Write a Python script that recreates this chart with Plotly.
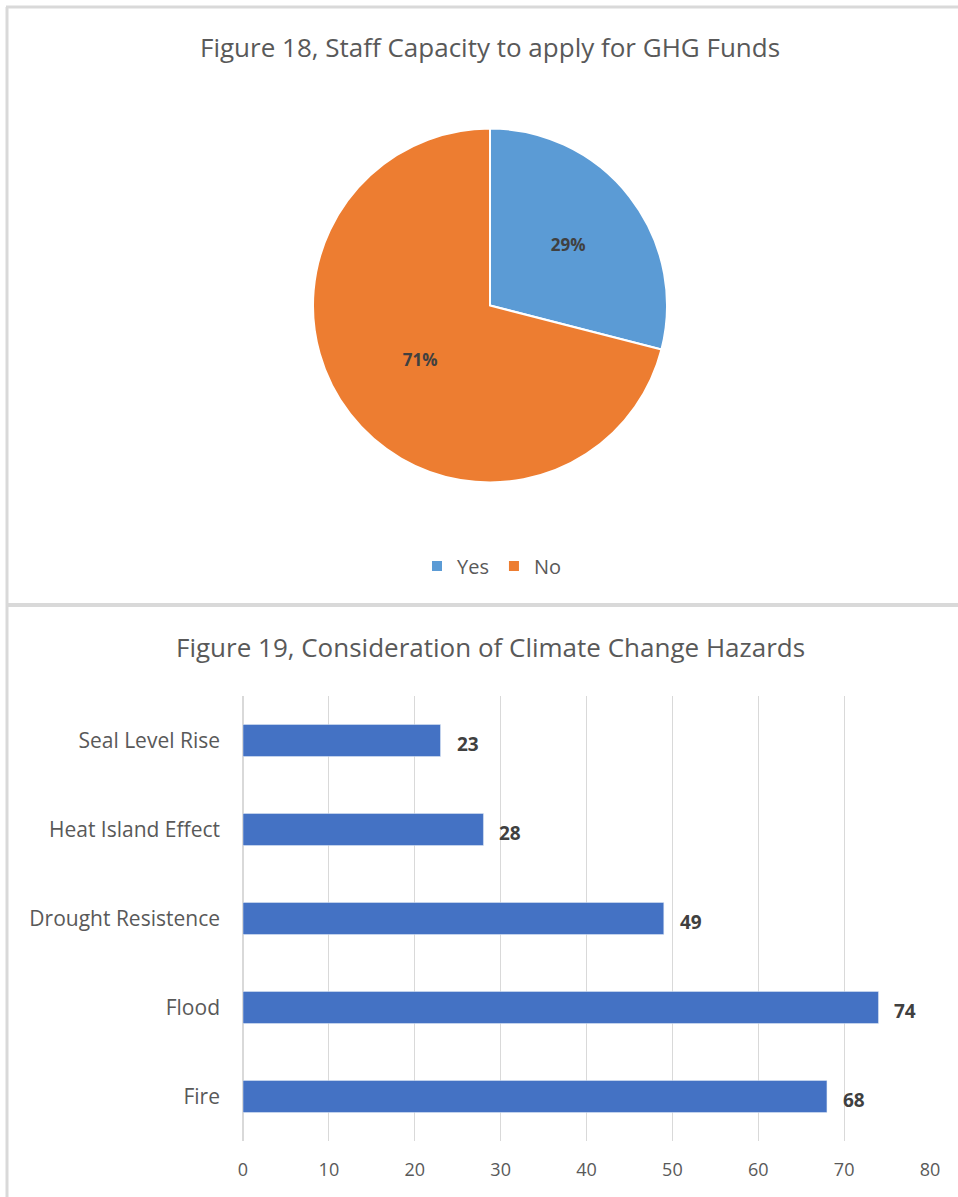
import plotly.graph_objects as go

W, H = 958, 1197

# Pie data
pie_labels = ["Yes", "No"]
pie_values = [29, 71]
pie_colors = ["#5B9BD5", "#ED7D31"]

# Bar data (top to bottom as shown)
hazards = ["Seal Level Rise", "Heat Island Effect", "Drought Resistence", "Flood", "Fire"]
counts = [23, 28, 49, 74, 68]
x_ticks = [0, 10, 20, 30, 40, 50, 60, 70, 80]

FONT = "Open Sans"
GREY = "#595959"
DARK = "#404040"

def px(x):
    return x / W

def py(y):
    return 1 - y / H

fig = go.Figure()

fig.add_trace(go.Pie(
    labels=pie_labels, values=pie_values, sort=False, direction="clockwise",
    rotation=0, automargin=False,
    marker=dict(colors=pie_colors, line=dict(color="white", width=2)),
    textinfo="percent", texttemplate="<b>%{percent:.0%}</b>",
    textposition="inside", insidetextorientation="horizontal",
    textfont=dict(family=FONT, size=17, color=DARK),
    domain=dict(x=[px(313), px(667)], y=[py(483), py(128)]),
    showlegend=True, hoverinfo="label+percent",
))

fig.add_trace(go.Bar(
    x=counts[::-1], y=hazards[::-1], orientation="h",
    marker=dict(color="#4472C4"), width=0.36,
    showlegend=False,
))

annotations = [
    dict(text="Figure 18, Staff Capacity to apply for GHG Funds", x=px(490), y=py(47),
         xref="paper", yref="paper", showarrow=False, xanchor="center", yanchor="middle",
         font=dict(size=26, color=GREY, family=FONT)),
    dict(text="Figure 19, Consideration of Climate Change Hazards", x=px(490), y=py(647),
         xref="paper", yref="paper", showarrow=False, xanchor="center", yanchor="middle",
         font=dict(size=26, color=GREY, family=FONT)),
]
for h, v in zip(hazards, counts):
    annotations.append(dict(text=f"<b>{v}</b>", x=v, y=h, xref="x", yref="y",
                            showarrow=False, xanchor="left", yanchor="middle",
                            xshift=14, yshift=-3,
                            font=dict(size=19, color=DARK, family=FONT)))

fig.update_layout(
    width=W, height=H, autosize=False, margin=dict(l=0, r=0, t=0, b=0, pad=0),
    paper_bgcolor="white", plot_bgcolor="white",
    font=dict(family=FONT, color=GREY),
    legend=dict(orientation="h", x=px(492), xanchor="center", y=py(566), yanchor="middle",
                font=dict(size=20, color=GREY), itemwidth=30),
    xaxis=dict(domain=[px(243), px(930)], range=[0, 80], tickvals=x_ticks, automargin=False,
               showgrid=True, gridcolor="#D9D9D9", gridwidth=1,
               zeroline=True, zerolinecolor="#D9D9D9", showline=False,
               tickfont=dict(size=18, color=GREY), ticklabelstandoff=16, fixedrange=True),
    yaxis=dict(domain=[py(1141), py(696)], type="category", categoryorder="array",
               categoryarray=hazards[::-1], showgrid=False, showline=False, automargin=False,
               tickfont=dict(size=21, color=GREY), ticklabelstandoff=22, fixedrange=True),
    annotations=annotations,
    shapes=[
        dict(type="line", xref="paper", yref="paper", x0=px(6), x1=1, y0=py(7), y1=py(7),
             line=dict(color="#D9D9D9", width=3)),
        dict(type="line", xref="paper", yref="paper", x0=px(7), x1=px(7), y0=py(7), y1=0,
             line=dict(color="#D9D9D9", width=3)),
        dict(type="line", xref="paper", yref="paper", x0=px(7), x1=1, y0=py(605), y1=py(605),
             line=dict(color="#D9D9D9", width=4)),
    ],
)

post = (
    "var s=document.createElement('style');"
    "s.textContent='html,body{margin:0!important;padding:0!important;overflow:hidden!important;}"
    ".plotly-graph-div{display:block;}';"
    "document.head.appendChild(s);"
)

fig.write_html("out.html",
               config={"responsive": False, "displayModeBar": False},
               post_script=post)
